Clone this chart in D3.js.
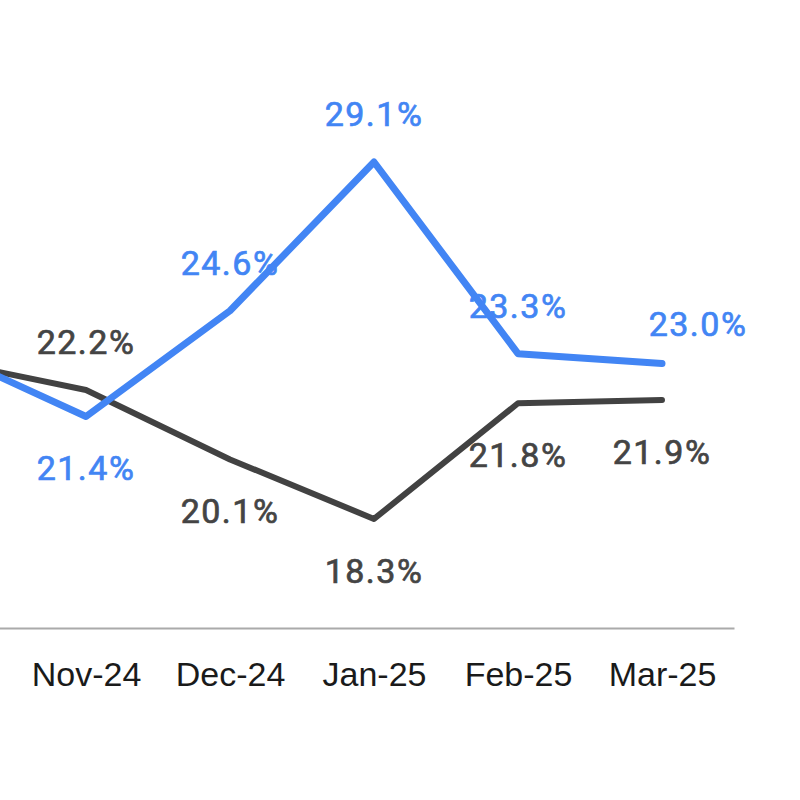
<!DOCTYPE html>
<html>
<head>
<meta charset="utf-8">
<script src="https://cdn.jsdelivr.net/npm/d3@7"></script>
<style>
  html, body { margin: 0; padding: 0; background: #fff; overflow: hidden; }
</style>
</head>
<body>
<div id="chart"></div>
<script>
// months (Oct-24 sits just off the left edge, the chart is cropped there)
var months = ["Oct-24", "Nov-24", "Dec-24", "Jan-25", "Feb-25", "Mar-25"];
var blueValues = [23.4, 21.4, 24.6, 29.1, 23.3, 23.0];
var grayValues = [23.1, 22.2, 20.1, 18.3, 21.8, 21.9];

var width = 800, height = 800;

var svg = d3.select("#chart").append("svg")
  .attr("width", width)
  .attr("height", height);

// scales
var x = d3.scalePoint()
  .domain(months)
  .range([-130, 734])
  .padding(0.5);

var y = d3.scaleLinear()
  .domain([15, 35])
  .range([628, -33]);

// bottom axis (the first month is off screen, so no label for it)
var xAxis = svg.append("g")
  .attr("transform", "translate(0," + y(15) + ")")
  .call(d3.axisBottom(x).tickValues(months.slice(1)).tickSize(0).tickPadding(58));

xAxis.select(".domain")
  .attr("stroke", "#aaa")
  .attr("stroke-width", 2);

xAxis.selectAll("text")
  .attr("font-family", "'Liberation Sans', Arial, sans-serif")
  .attr("font-size", "34px")
  .attr("fill", "#1a1a1a")
  .attr("dy", 0);

var line = d3.line()
  .x(function(d, i) { return x(months[i]); })
  .y(function(d) { return y(d); });

svg.append("path")
  .datum(grayValues)
  .attr("fill", "none")
  .attr("stroke", "#424242")
  .attr("stroke-width", 6)
  .attr("stroke-linejoin", "round")
  .attr("stroke-linecap", "round")
  .attr("d", line);

svg.append("path")
  .datum(blueValues)
  .attr("fill", "none")
  .attr("stroke", "#4285f4")
  .attr("stroke-width", 7)
  .attr("stroke-linejoin", "round")
  .attr("stroke-linecap", "round")
  .attr("d", line);

// data labels: the higher series goes above, the lower below
function addLabels(values, other, color, isBlue) {
  var pts = values.map(function(v, i) {
    return { month: months[i], value: v, above: v >= other[i], last: i === values.length - 1 };
  }).slice(1);

  svg.append("g").selectAll("text")
    .data(pts)
    .enter()
    .append("text")
    .attr("x", function(d) {
      // last blue label is pushed right in the original
      return x(d.month) + (isBlue && d.last ? 36 : 0);
    })
    .attr("y", function(d) {
      var off = d.above ? -36 : 64;
      if (isBlue && d.last) off = -28;
      return y(d.value) + off;
    })
    .attr("text-anchor", "middle")
    .attr("font-family", "Roboto, 'Noto Sans', sans-serif")
    .attr("font-size", "34px")
    .attr("letter-spacing", "1.5px")
    .attr("fill", color)
    .attr("stroke", color)
    .attr("stroke-width", 0.7)
    .text(function(d) { return d.value.toFixed(1) + "%"; });
}

addLabels(grayValues, blueValues, "#444", false);
addLabels(blueValues, grayValues, "#4285f4", true);
</script>
</body>
</html>
